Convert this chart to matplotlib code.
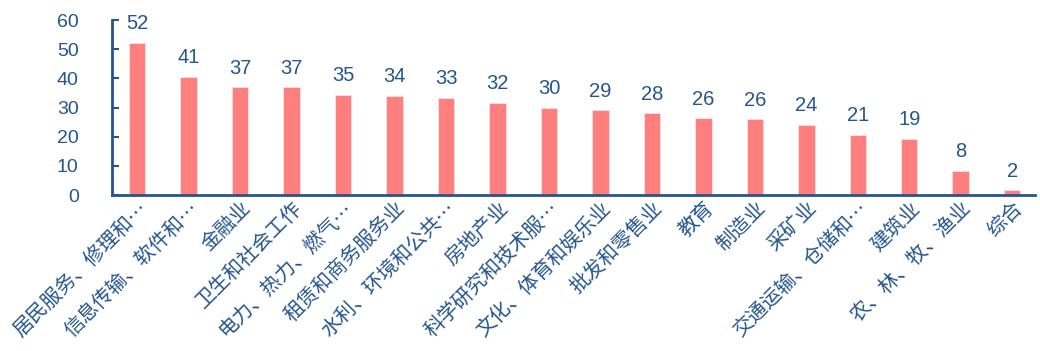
import matplotlib.pyplot as plt

plt.rcParams['font.family'] = ['Liberation Sans', 'Noto Sans CJK SC', 'DejaVu Sans']

categories = ['居民服务、修理和…', '信息传输、软件和…', '金融业', '卫生和社会工作',
              '电力、热力、燃气…', '租赁和商务服务业', '水利、环境和公共…', '房地产业',
              '科学研究和技术服…', '文化、体育和娱乐业', '批发和零售业', '教育',
              '制造业', '采矿业', '交通运输、仓储和…', '建筑业', '农、林、牧、渔业', '综合']
values = [52.1, 40.5, 36.9, 36.9, 34.3, 33.9, 33.4, 31.6, 29.8, 29.0, 28.0,
          26.3, 25.9, 24.1, 20.6, 19.3, 8.2, 1.6]
labels = [52, 41, 37, 37, 35, 34, 33, 32, 30, 29, 28, 26, 26, 24, 21, 19, 8, 2]

blue = '#24558F'
bar_color = '#FF7F7F'

fig = plt.figure(figsize=(10.4, 3.51), dpi=100)
ax = fig.add_axes([0.1077, 0.4444, 0.8873, 0.4986])

x = range(len(categories))
ax.bar(x, values, width=0.32, color=bar_color, edgecolor='#FFE0E0', linewidth=0.6)

for i, (v, lab) in enumerate(zip(values, labels)):
    ax.annotate(str(lab), (i, v), xytext=(0, 7), textcoords='offset points',
                ha='center', va='bottom', fontsize=14.5, color=blue)

ax.set_xlim(-0.49, 17.44)
ax.set_ylim(0, 60)
ax.set_yticks(range(0, 61, 10))
ax.tick_params(axis='y', direction='in', length=5, width=1.5, color=blue,
               labelsize=14, labelcolor=blue, pad=24)
ax.tick_params(axis='x', length=0, pad=2)
ax.set_xticks(list(x))
ax.set_xticklabels(categories, rotation=45, ha='right', va='top',
                   rotation_mode='anchor', fontsize=14.5, color=blue,
                   family=['Noto Sans CJK SC', 'DejaVu Sans'])

for s in ['top', 'right']:
    ax.spines[s].set_visible(False)
for s in ['left', 'bottom']:
    ax.spines[s].set_color(blue)
    ax.spines[s].set_linewidth(2)

fig.savefig('out.png', dpi=100)
